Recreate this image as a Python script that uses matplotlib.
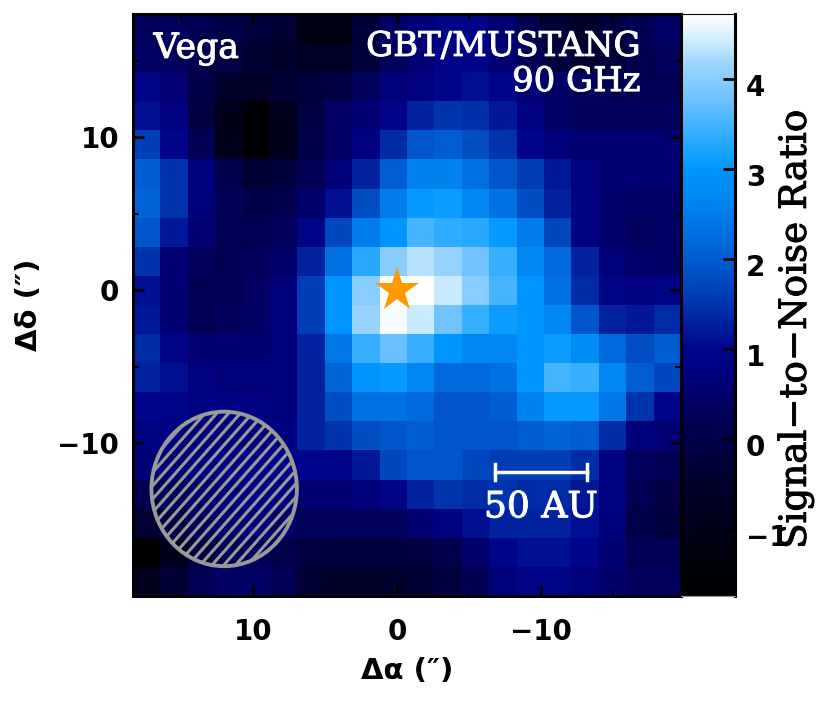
import matplotlib
matplotlib.use('Agg')
import matplotlib.pyplot as plt
import matplotlib.patheffects as pe
import matplotlib.transforms as mtrans
import numpy as np
from matplotlib.colors import LinearSegmentedColormap
from matplotlib.patches import Ellipse

# signal-to-noise per map cell, top row first
snr_rows = [
    [0.3, 0.3, 0.2, 0.0, -0.2, -0.4, -1.2, -1.2, -0.3, 0.4, 0.7, 0.9, 0.9, 0.6, 0.1, -0.4, -0.6, -0.2, 0.2, 0.4],
    [0.4, 0.3, 0.1, -0.1, -0.4, -0.5, -0.7, -0.7, -0.3, 0.3, 0.6, 0.9, 0.9, 0.6, 0.2, -0.2, -0.4, -0.3, 0.1, 0.3],
    [0.9, 0.6, 0.0, -0.5, -0.6, -0.4, -0.2, -0.1, 0.3, 0.7, 0.8, 1.0, 1.1, 1.0, 0.6, 0.4, 0.3, 0.2, 0.2, 0.2],
    [1.1, 0.8, -0.1, -1.0, -1.6, -0.9, -0.1, 0.4, 0.6, 0.9, 1.3, 1.5, 1.45, 1.2, 0.8, 0.4, 0.3, 0.3, 0.3, 0.3],
    [1.6, 1.0, 0.2, -0.9, -1.6, -0.9, 0.0, 0.4, 0.8, 1.4, 1.9, 2.0, 1.8, 1.5, 1.0, 0.7, 0.6, 0.6, 0.6, 0.6],
    [2.0, 1.5, 0.7, 0.1, -0.4, -0.2, 0.2, 0.7, 1.3, 2.0, 2.6, 2.6, 2.3, 1.9, 1.6, 1.2, 0.8, 0.6, 0.6, 0.6],
    [2.1, 1.5, 0.7, 0.2, 0.0, 0.1, 0.5, 1.1, 1.8, 2.5, 3.05, 3.1, 2.7, 2.3, 1.8, 1.3, 0.8, 0.5, 0.4, 0.4],
    [1.9, 1.2, 0.6, 0.2, 0.2, 0.3, 0.9, 1.7, 2.5, 3.0, 3.5, 3.35, 3.3, 3.05, 2.5, 1.7, 0.8, 0.5, 0.3, 0.4],
    [1.5, 0.6, 0.3, 0.2, 0.3, 0.5, 1.3, 2.3, 3.3, 4.0, 4.3, 4.1, 3.8, 3.4, 2.7, 2.2, 1.3, 0.7, 0.5, 0.4],
    [1.1, 0.6, 0.2, 0.2, 0.4, 0.7, 1.6, 3.0, 4.0, 4.7, 4.7, 4.4, 4.0, 3.5, 3.0, 2.3, 1.4, 0.9, 0.8, 0.9],
    [1.2, 0.6, 0.2, 0.3, 0.4, 0.7, 1.6, 3.0, 4.1, 4.65, 4.4, 3.8, 3.4, 3.1, 3.0, 2.7, 1.9, 1.3, 1.2, 1.4],
    [1.4, 0.9, 0.6, 0.6, 0.6, 0.7, 1.3, 2.4, 3.4, 3.75, 3.4, 3.0, 2.7, 2.7, 3.0, 3.1, 2.8, 2.2, 1.8, 2.0],
    [1.3, 1.1, 0.8, 0.7, 0.7, 0.7, 1.3, 2.1, 3.0, 3.05, 2.7, 2.2, 2.2, 2.3, 3.0, 3.5, 3.4, 2.7, 2.0, 1.7],
    [1.0, 0.9, 0.8, 0.8, 0.8, 0.7, 1.3, 1.8, 2.3, 2.3, 2.2, 1.9, 1.9, 2.0, 2.6, 3.05, 3.05, 2.4, 1.5, 1.0],
    [0.8, 0.8, 0.7, 0.7, 0.7, 0.8, 1.3, 1.5, 1.8, 1.9, 2.0, 1.9, 1.9, 1.9, 2.0, 2.1, 2.0, 1.4, 0.7, 0.6],
    [0.6, 0.6, 0.8, 0.9, 1.0, 1.0, 1.0, 0.9, 1.2, 1.7, 1.9, 1.9, 1.7, 1.6, 1.6, 1.6, 1.4, 0.8, 0.3, 0.2],
    [0.1, 0.3, 0.5, 0.7, 0.9, 0.8, 0.6, 0.6, 0.7, 0.9, 1.3, 1.5, 1.4, 1.5, 1.4, 1.4, 1.2, 0.8, 0.2, -0.1],
    [-0.4, -0.1, 0.3, 0.6, 0.7, 0.4, 0.3, 0.3, 0.3, 0.3, 0.6, 0.8, 1.1, 1.3, 1.3, 1.3, 1.1, 0.7, 0.0, -0.2],
    [-1.7, -0.9, -0.2, 0.2, 0.3, 0.1, -0.1, -0.2, -0.2, -0.2, -0.1, 0.1, 0.5, 1.0, 1.1, 1.1, 1.0, 0.6, 0.2, 0.2],
    [-0.9, -0.4, 0.2, 0.4, 0.4, 0.2, -0.4, -0.5, -0.5, -0.5, -0.4, -0.2, 0.2, 0.7, 0.9, 0.9, 0.7, 0.5, 0.3, 0.3],
]
snr = np.array(snr_rows)

vmin, vmax = -1.75, 4.72
x_ticks = [10, 0, -10]
y_ticks = [10, 0, -10]
cbar_ticks = [-1, 0, 1, 2, 3, 4]

# black -> navy -> blue -> azure -> white
stops = [(-1.75, (0, 0, 0)), (-0.5, (0, 0, 45)), (0.2, (0, 0, 85)), (0.7, (0, 0, 125)),
         (1.0, (0, 5, 140)), (1.3, (0, 35, 160)), (1.7, (0, 70, 190)), (2.1, (0, 100, 215)),
         (2.5, (0, 125, 235)), (3.0, (0, 150, 255)), (3.3, (40, 170, 255)), (3.7, (100, 190, 255)),
         (4.2, (160, 215, 255)), (4.4, (200, 235, 255)), (4.72, (255, 255, 255))]
snr_cmap = LinearSegmentedColormap.from_list(
    'snr', [((v - vmin) / (vmax - vmin), tuple(c / 255 for c in rgb)) for v, rgb in stops])

W, H = 830, 727
plt.rcParams['font.family'] = 'DejaVu Sans'
fig = plt.figure(figsize=(W / 100, H / 100), dpi=100)
ax = fig.add_axes([133 / W, 1 - 596 / H, 548 / W, 582 / H])

ax.imshow(snr, cmap=snr_cmap, vmin=vmin, vmax=vmax, aspect='auto',
          extent=[18.33, -19.72, -20, 18.05], interpolation='nearest')
ax.set_xlim(18.33, -19.72)
ax.set_ylim(-20, 18.05)

ax.set_xticks(x_ticks)
ax.set_yticks(y_ticks)
ax.set_xticks([15, 5, -5, -15], minor=True)
ax.set_yticks([15, 5, -5, -15], minor=True)
ax.set_xticklabels(['10', '0', '\u221210'])
ax.set_yticklabels(['10', '0', '\u221210'])
ax.tick_params(which='major', direction='in', length=8, width=2, top=True, right=True,
               labelsize=20, pad=10)
ax.tick_params(axis='x', which='major', pad=16)
ax.tick_params(which='minor', direction='in', length=4, width=1.5, top=True, right=True)
for label in ax.get_xticklabels() + ax.get_yticklabels():
    label.set_fontweight('bold')
for spine in ax.spines.values():
    spine.set_linewidth(2.2)

ax.set_xlabel('\u0394\u03b1 (\u2033)', fontsize=21, fontweight='bold', labelpad=8)
ax.set_ylabel('\u0394\u03b4 (\u2033)', fontsize=21, fontweight='bold', labelpad=10)

# serif labels are a bit heavier in the reference
white_stroke = [pe.withStroke(linewidth=0.7, foreground='white')]
ax.text(16.9, 15.8, 'Vega', color='white', fontsize=25, family='DejaVu Serif', ha='left', va='center',
        path_effects=white_stroke)
ax.text(-16.9, 15.9, 'GBT/MUSTANG', color='white', fontsize=24.4, family='DejaVu Serif', ha='right',
        va='center', path_effects=white_stroke)
ax.text(-16.9, 13.6, '90 GHz', color='white', fontsize=24.4, family='DejaVu Serif', ha='right', va='center',
        path_effects=white_stroke)

# beam, hatched by hand so the spacing matches
beam = Ellipse((12, -13), 10.1, 10.1, facecolor='none', edgecolor='#999999', linewidth=2.8, zorder=4)
ax.add_patch(beam)
slope = -15.3 / 14.4
for c in np.arange(-30, 12, 0.87):
    hatch_x = np.array([3, 20])
    line, = ax.plot(hatch_x, slope * (hatch_x - 12) - 13 + c + 12, color='#999999', lw=2.2, zorder=3)
    line.set_clip_path(beam)

ax.plot(0, 0, marker='*', color='#ff9900', markersize=33, markeredgewidth=0, zorder=5)

# 50 AU scale bar
ax.plot([-6.8, -13.2], [-11.9, -11.9], color='white', lw=2.5, zorder=5)
ax.plot([-6.8, -6.8], [-11.4, -12.4], color='white', lw=2.5, zorder=5)
ax.plot([-13.2, -13.2], [-11.4, -12.4], color='white', lw=2.5, zorder=5)
ax.text(-10, -14.2, '50 AU', color='white', fontsize=26, family='DejaVu Serif', ha='center', va='center',
        path_effects=white_stroke)

# colour bar
cax = fig.add_axes([681 / W, 1 - 596 / H, 54 / W, 582 / H])
cax.imshow(np.linspace(vmax, vmin, 256)[:, None], cmap=snr_cmap, vmin=vmin, vmax=vmax,
           aspect='auto', extent=[0, 1, vmin, vmax])
cax.set_xticks([])
cax.yaxis.tick_right()
cax.set_yticks(cbar_ticks)
cax.set_yticklabels(['\u22121', '0', '1', '2', '3', '4'], fontweight='bold', fontsize=20)
cax.tick_params(direction='in', length=9, width=2, pad=8)
# numbers sit a little below their ticks in the reference
shift = mtrans.ScaledTranslation(0, -6 / 100, fig.dpi_scale_trans)
for label in cax.get_yticklabels():
    label.set_transform(label.get_transform() + shift)
cax.spines['top'].set_linewidth(0.8)
cax.spines['bottom'].set_linewidth(0.8)
cax.spines['bottom'].set_color('#999999')
cax.spines['left'].set_linewidth(2.2)
cax.spines['right'].set_linewidth(2.2)
fig.text(796 / W, 1 - 329 / H, 'Signal\u2212to\u2212Noise Ratio', rotation=90, fontsize=26.8,
         family='DejaVu Serif', ha='center', va='center',
         path_effects=[pe.withStroke(linewidth=0.7, foreground='black')])

fig.savefig('out.png', dpi=100)
